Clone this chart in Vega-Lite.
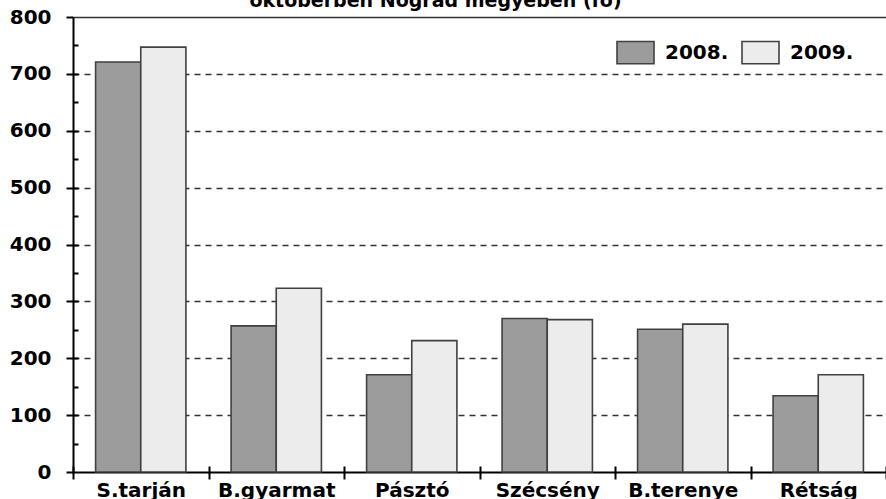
{
  "$schema": "https://vega.github.io/schema/vega-lite/v6.json",
  "width": 813,
  "height": 455,
  "autosize": {"type": "none"},
  "padding": {"left": 73, "top": 17, "right": 0, "bottom": 27},
  "background": "white",
  "config": {
    "view": {"stroke": null},
    "font": "DejaVu Sans"
  },
  "title": {
    "text": "októberben Nógrád megyében (fő)",
    "anchor": "middle",
    "baseline": "alphabetic",
    "offset": -19,
    "dx": -44,
    "fontSize": 19,
    "fontWeight": "bold",
    "font": "DejaVu Sans",
    "color": "#000000"
  },
  "data": {
    "values": [
      {"telepules": "S.tarján", "ev": "2008.", "ertek": 721},
      {"telepules": "S.tarján", "ev": "2009.", "ertek": 747},
      {"telepules": "B.gyarmat", "ev": "2008.", "ertek": 257},
      {"telepules": "B.gyarmat", "ev": "2009.", "ertek": 323},
      {"telepules": "Pásztó", "ev": "2008.", "ertek": 171},
      {"telepules": "Pásztó", "ev": "2009.", "ertek": 231},
      {"telepules": "Szécsény", "ev": "2008.", "ertek": 270},
      {"telepules": "Szécsény", "ev": "2009.", "ertek": 268},
      {"telepules": "B.terenye", "ev": "2008.", "ertek": 251},
      {"telepules": "B.terenye", "ev": "2009.", "ertek": 260},
      {"telepules": "Rétság", "ev": "2008.", "ertek": 134},
      {"telepules": "Rétság", "ev": "2009.", "ertek": 171}
    ]
  },
  "layer": [
    {
      "mark": {"type": "bar", "stroke": "#404040", "strokeWidth": 1.6},
      "encoding": {
        "x": {
          "field": "telepules",
          "type": "nominal",
          "sort": null,
          "scale": {"paddingInner": 0, "paddingOuter": 0},
          "axis": {
            "title": null,
            "orient": "bottom",
            "offset": -6,
            "domain": false,
            "labelAngle": 0,
            "labelFont": "DejaVu Sans",
            "labelFontSize": 20,
            "labelFontWeight": "bold",
            "labelColor": "#000000",
            "labelPadding": 1,
            "tickColor": "#000000",
            "tickWidth": 2,
            "tickSize": 13,
            "tickBand": "extent"
          }
        },
        "xOffset": {
          "field": "ev",
          "type": "nominal",
          "scale": {"paddingInner": 0, "paddingOuter": 0.5}
        },
        "y": {
          "field": "ertek",
          "type": "quantitative",
          "scale": {"domain": [0, 800], "nice": false},
          "axis": {
            "title": null,
            "orient": "left",
            "values": [0, 100, 200, 300, 400, 500, 600, 700, 800],
            "labelFont": "DejaVu Sans",
            "labelFontSize": 20,
            "labelFontWeight": "bold",
            "labelColor": "#000000",
            "labelPadding": 15,
            "domainColor": "#000000",
            "domainWidth": 2,
            "tickColor": "#000000",
            "tickWidth": 2,
            "tickSize": 7,
            "grid": true,
            "gridColor": {"condition": {"test": "datum.value == 0", "value": "#000000"}, "value": "#333333"},
            "gridWidth": {"condition": {"test": "datum.value == 0", "value": 2}, "value": 1.6},
            "gridDash": {"condition": {"test": "datum.value == 800 || datum.value == 0", "value": []}, "value": [6, 5]}
          }
        },
        "fill": {
          "field": "ev",
          "type": "nominal",
          "scale": {"domain": ["2008.", "2009."], "range": ["#9c9c9c", "#ececec"]},
          "legend": {
            "title": null,
            "orient": "none",
            "legendX": 543,
            "legendY": 16,
            "direction": "horizontal",
            "symbolType": "M-1,-0.6H1V0.6H-1Z",
            "symbolSize": 1369,
            "symbolStrokeColor": "#404040",
            "symbolStrokeWidth": 1.6,
            "labelFont": "DejaVu Sans",
            "labelFontSize": 20,
            "labelFontWeight": "bold",
            "labelColor": "#000000",
            "labelOffset": 10,
            "columnPadding": 9
          }
        }
      }
    },
    {
      "mark": {"type": "rule", "opacity": 0},
      "encoding": {
        "y": {
          "datum": 0,
          "type": "quantitative",
          "axis": {
            "title": null,
            "values": [50, 100, 150, 200, 250, 300, 350, 400, 450, 500, 550, 600, 650, 700, 750],
            "labels": false,
            "domain": false,
            "grid": false,
            "orient": "left",
            "tickColor": "#000000",
            "tickWidth": 2,
            "tickSize": -5
          }
        }
      }
    }
  ],
  "resolve": {"axis": {"y": "independent"}}
}
